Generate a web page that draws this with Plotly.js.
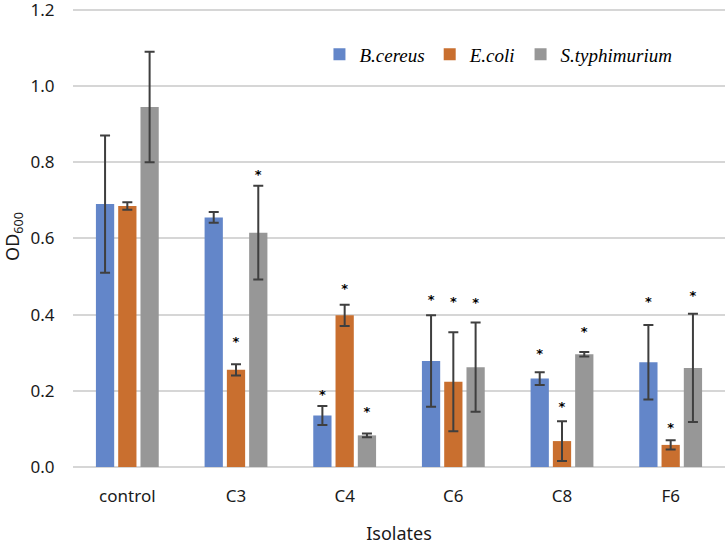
<!DOCTYPE html>
<html>
<head>
<meta charset="utf-8">
<script src="https://cdn.plot.ly/plotly-3.0.1.min.js"></script>
<style>
  html, body { margin: 0; padding: 0; background: #fff; }
  #chart { width: 725px; height: 545px; }
</style>
</head>
<body>
<div id="chart"></div>
<script>
// isolates on the x axis
var isolates = ['control', 'C3', 'C4', 'C6', 'C8', 'F6'];

// mean OD600 per organism
var bcereus = [0.69, 0.655, 0.135, 0.278, 0.232, 0.275];
var ecoli = [0.685, 0.255, 0.398, 0.224, 0.068, 0.058];
var styph = [0.945, 0.615, 0.083, 0.262, 0.296, 0.26];

// error bar half-lengths
var bcereusErr = [0.18, 0.014, 0.025, 0.12, 0.017, 0.098];
var ecoliErr = [0.01, 0.015, 0.028, 0.13, 0.052, 0.012];
var styphErr = [0.145, 0.123, 0.005, 0.117, 0.006, 0.142];

// where the significance stars sit (null = no star)
var bcereusStar = [null, null, 0.186, 0.437, 0.295, 0.432];
var ecoliStar = [null, 0.325, 0.465, 0.432, 0.156, 0.10];
var styphStar = [null, 0.765, 0.143, 0.428, 0.353, 0.447];

var yTicks = [0, 0.2, 0.4, 0.6, 0.8, 1.0, 1.2];

var seriesNames = ['B.cereus', 'E.coli', 'S.typhimurium'];
var colors = ['#6386C9', '#C96F2F', '#979797'];

function barTrace(i, vals, errs) {
    return {
        type: 'bar',
        name: seriesNames[i],
        x: isolates,
        y: vals,
        marker: {color: colors[i]},
        error_y: {type: 'data', array: errs, visible: true, color: '#3f3f3f', thickness: 2, width: 5},
        hoverinfo: 'y'
    };
}

// only keep the isolates that actually have a star
function starTrace(stars) {
    var xs = [], ys = [];
    for (var k = 0; k < stars.length; k++) {
        if (stars[k] !== null) {
            xs.push(isolates[k]);
            ys.push(stars[k]);
        }
    }
    return {
        type: 'scatter',
        mode: 'text',
        x: xs,
        y: ys,
        text: ys.map(function () { return '<b>*</b>'; }),
        textfont: {family: 'DejaVu Sans', size: 13, color: '#000000'},
        textposition: 'middle center',
        showlegend: false,
        hoverinfo: 'skip'
    };
}

var data = [
    barTrace(0, bcereus, bcereusErr),
    barTrace(1, ecoli, ecoliErr),
    barTrace(2, styph, styphErr),
    starTrace(bcereusStar),
    starTrace(ecoliStar),
    starTrace(styphStar)
];

var layout = {
    width: 725,
    height: 545,
    margin: {l: 73, r: 0, t: 6, b: 78},
    paper_bgcolor: '#fff',
    plot_bgcolor: '#fff',
    barmode: 'group',
    bargap: 0.385,
    bargroupgap: 0.18,
    scattermode: 'group',
    scattergap: 0.385,
    font: {family: 'Noto Sans, Open Sans, sans-serif', color: '#1a1a1a'},
    xaxis: {
        title: {text: 'Isolates', font: {size: 18}, standoff: 26},
        tickfont: {size: 17},
        ticks: 'outside',
        ticklen: 14,
        tickcolor: 'rgba(0,0,0,0)',
        showgrid: false,
        showline: false,
        zeroline: false
    },
    yaxis: {
        title: {text: 'OD<sub>600</sub>', font: {size: 18}, standoff: 8},
        range: [0, 1.21],
        tickmode: 'array',
        tickvals: yTicks,
        ticktext: yTicks.map(function (v) { return v.toFixed(1); }),
        tickfont: {size: 17},
        ticklabeloverflow: 'allow',
        ticks: 'outside',
        ticklen: 14,
        tickcolor: 'rgba(0,0,0,0)',
        showgrid: true,
        gridcolor: '#d6d6d6',
        gridwidth: 2,
        zeroline: true,
        zerolinecolor: '#d6d6d6',
        zerolinewidth: 2,
        showline: false
    },
    legend: {
        orientation: 'h',
        x: 0.378,
        xanchor: 'left',
        y: 0.895,
        yanchor: 'middle',
        bgcolor: 'rgba(255,255,255,1)',
        font: {family: 'Liberation Serif, serif', size: 19, style: 'italic', color: '#000'},
        tracegroupgap: 0
    },
    showlegend: true
};

Plotly.newPlot('chart', data, layout, {displayModeBar: false, staticPlot: true});
</script>
</body>
</html>
